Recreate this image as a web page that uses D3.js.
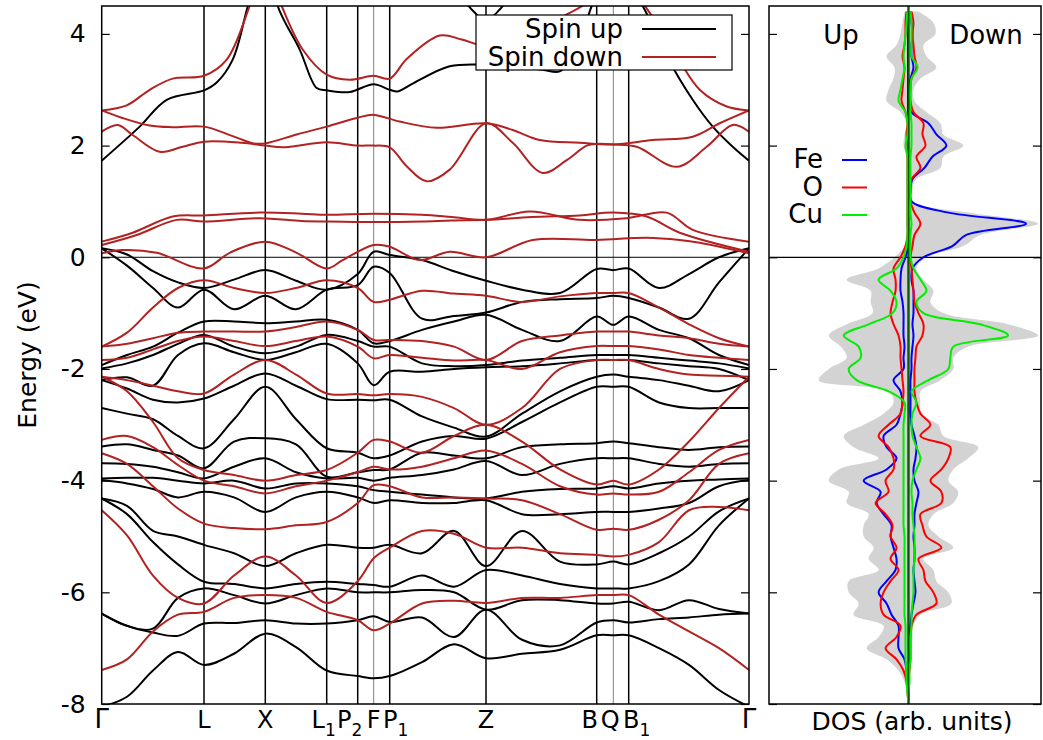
<!DOCTYPE html>
<html><head><meta charset="utf-8">
<script src="https://cdn.jsdelivr.net/npm/d3@7"></script>
<style>
body{margin:0;background:#fff}
svg{display:block}
text{font-family:"DejaVu Sans",sans-serif;fill:#000}
</style></head>
<body><svg id="c" width="1043" height="740"></svg>
<script>
// ---------------- DATA ----------------
const kLabels = [["Γ",""],["L",""],["X",""],["L","1"],["P","2"],["F",""],["P","1"],["Z",""],["B",""],["Q",""],["B","1"],["Γ",""]];
const kTicks = [0, 1.023, 1.636, 2.25, 2.56, 2.72, 2.88, 3.843, 4.95, 5.116, 5.27, 6.473];
const kThin = ["F","Q"];
const energyTicks = [-8,-6,-4,-2,0,2,4];
const kNodes = [0,0.253,0.513,0.763,1.023,1.323,1.636,1.943,2.25,2.56,2.72,2.88,3.203,3.523,3.843,4.203,4.583,4.95,5.116,5.27,5.573,5.873,6.173,6.473];

// spin-up valence energies (eV) at each k node, highest first
const upValenceByNode = [
 [0.16,0.16,-1.93,-1.99,-2.2,-2.2,-2.7,-3.39,-3.69,-3.96,-3.99,-4.32,-4.32,-6.38,-6.38,-8.05],
 [0.05,-0.15,-1.75,-1.9,-2.15,-2.35,-2.8,-3.35,-3.7,-3.95,-4.05,-4.45,-4.6,-6.6,-6.6,-7.87],
 [-0.25,-0.55,-1.6,-1.75,-2.3,-2.55,-2.9,-3.45,-3.75,-3.95,-4.15,-4.9,-5.1,-6.65,-6.72,-7.4],
 [-0.45,-0.9,-1.35,-1.55,-1.75,-2.6,-3.2,-3.55,-3.85,-4.0,-4.3,-5.0,-5.5,-6.1,-6.78,-7.07],
 [-0.55,-0.58,-1.15,-1.39,-1.54,-2.53,-3.42,-3.78,-3.96,-4.05,-4.2,-5.15,-5.81,-5.93,-6.56,-7.3],
 [-0.4,-0.93,-1.15,-1.6,-1.7,-2.3,-2.9,-3.3,-3.75,-4.0,-4.3,-5.3,-5.85,-6.05,-6.55,-7.1],
 [-0.23,-0.69,-1.18,-1.72,-1.84,-2.08,-2.32,-3.24,-3.6,-4.14,-4.56,-5.53,-5.93,-6.2,-6.5,-6.74],
 [-0.42,-0.93,-1.15,-1.6,-1.7,-2.3,-2.9,-3.35,-3.85,-4.05,-4.3,-5.3,-5.85,-6.05,-6.56,-6.98],
 [-0.58,-0.58,-1.12,-1.39,-1.55,-2.54,-3.42,-3.93,-3.96,-4.05,-4.2,-5.15,-5.81,-5.93,-6.56,-7.4],
 [-0.3,-0.5,-1.3,-1.5,-1.9,-2.55,-3.5,-3.85,-3.95,-4.1,-4.3,-5.2,-5.85,-6.0,-6.5,-7.5],
 [0.1,-0.17,-1.54,-1.6,-2.29,-2.56,-3.6,-3.81,-4.0,-4.17,-4.4,-5.2,-5.87,-6.0,-6.43,-7.54],
 [0.04,-0.28,-1.5,-1.6,-2.05,-2.55,-3.55,-3.8,-3.95,-4.2,-4.35,-5.15,-5.9,-6.0,-6.53,-7.5],
 [-0.05,-1.1,-1.3,-1.9,-2.05,-2.85,-3.3,-3.5,-3.9,-4.25,-4.4,-5.3,-5.7,-5.96,-6.45,-7.25],
 [-0.25,-1.05,-1.15,-1.95,-2.0,-3.05,-3.2,-3.55,-3.8,-4.3,-4.4,-4.9,-5.9,-6.0,-6.8,-6.93],
 [-0.42,-0.99,-1.03,-1.93,-1.97,-3.21,-3.25,-3.6,-3.65,-4.32,-4.35,-5.53,-5.6,-6.31,-6.31,-7.18],
 [-0.58,-0.8,-1.3,-1.85,-1.95,-2.8,-2.95,-3.4,-3.9,-4.2,-4.6,-4.9,-5.7,-6.14,-6.85,-7.1],
 [-0.64,-0.75,-1.5,-1.8,-1.9,-2.4,-2.6,-3.35,-3.7,-4.15,-4.6,-5.45,-5.85,-6.14,-6.95,-7.03],
 [-0.21,-0.73,-1.06,-1.75,-1.84,-2.14,-2.32,-3.33,-3.6,-4.14,-4.56,-5.5,-5.93,-6.2,-6.54,-6.77],
 [-0.23,-0.69,-1.21,-1.75,-1.84,-2.1,-2.32,-3.3,-3.6,-4.1,-4.56,-5.45,-5.93,-6.2,-6.5,-6.77],
 [-0.2,-0.73,-1.06,-1.75,-1.84,-2.14,-2.32,-3.33,-3.6,-4.14,-4.56,-5.5,-5.93,-6.17,-6.54,-6.77],
 [-0.55,-0.9,-1.3,-1.8,-1.9,-2.2,-2.6,-3.4,-3.7,-4.05,-4.5,-5.3,-5.8,-6.32,-6.48,-7.0],
 [-0.3,-1.1,-1.45,-1.85,-1.95,-2.3,-2.7,-3.45,-3.75,-4.0,-4.4,-5.0,-5.5,-6.14,-6.45,-7.3],
 [0.0,-0.45,-1.75,-1.9,-2.0,-2.4,-2.7,-3.4,-3.7,-3.98,-4.1,-4.55,-4.8,-6.3,-6.4,-7.75],
 [0.16,0.16,-1.93,-1.99,-2.2,-2.2,-2.7,-3.39,-3.69,-3.96,-3.99,-4.32,-4.32,-6.38,-6.38,-8.05]
];
// spin-down valence energies (eV) at each k node, highest first
const downValenceByNode = [
 [-1.6,-1.6,-1.84,-2.14,-2.14,-3.27,-3.51,-4.53,-7.39],
 [-1.35,-1.55,-1.8,-2.2,-2.4,-3.2,-3.7,-4.98,-7.2],
 [-0.9,-1.45,-1.65,-2.3,-2.95,-3.4,-4.1,-5.7,-6.7],
 [-0.55,-1.35,-1.5,-2.4,-3.6,-3.72,-4.5,-6.1,-6.4],
 [-0.41,-1.33,-1.42,-2.44,-3.81,-4.0,-4.77,-6.2,-6.35],
 [-0.55,-1.33,-1.5,-2.1,-3.9,-4.1,-4.85,-5.7,-6.1],
 [-0.64,-1.33,-1.59,-1.84,-4.0,-4.23,-4.87,-5.36,-6.05],
 [-0.55,-1.25,-1.5,-2.1,-3.9,-4.1,-4.8,-5.7,-6.1],
 [-0.41,-1.15,-1.42,-2.44,-3.81,-4.0,-4.74,-6.19,-6.35],
 [-0.55,-1.3,-1.6,-2.45,-3.5,-3.85,-4.4,-5.8,-6.5],
 [-0.8,-1.48,-1.81,-2.47,-3.27,-3.75,-4.08,-5.39,-6.68],
 [-0.76,-1.48,-1.75,-2.45,-3.3,-3.8,-4.1,-5.2,-6.56],
 [-0.6,-1.5,-1.8,-2.5,-3.5,-3.75,-4.3,-4.9,-6.2],
 [-0.65,-1.6,-1.85,-2.7,-3.2,-3.6,-4.3,-4.95,-6.15],
 [-0.69,-1.84,-1.84,-3.0,-3.0,-3.46,-4.32,-5.2,-6.19],
 [-0.8,-1.5,-2.0,-2.7,-3.3,-3.7,-4.35,-5.2,-6.1],
 [-0.7,-1.4,-1.7,-2.0,-3.8,-4.1,-4.6,-5.3,-6.1],
 [-0.64,-1.33,-1.59,-1.84,-4.07,-4.25,-4.88,-5.33,-6.05],
 [-0.64,-1.33,-1.59,-1.84,-4.0,-4.23,-4.86,-5.36,-6.05],
 [-0.64,-1.33,-1.59,-1.84,-4.07,-4.25,-4.88,-5.33,-6.05],
 [-0.9,-1.4,-1.65,-2.0,-3.8,-4.2,-4.7,-5.1,-6.4],
 [-1.2,-1.45,-1.75,-2.1,-3.3,-3.85,-4.35,-4.53,-6.7],
 [-1.45,-1.55,-1.8,-2.12,-2.7,-3.45,-3.7,-4.47,-7.0],
 [-1.6,-1.6,-1.84,-2.14,-2.14,-3.27,-3.51,-4.53,-7.39]
];
// conduction bands as [k, E] lists
const upConduction = [
 [[0,1.73],[0.38,2.34],[0.65,2.82],[1.023,2.99],[1.15,3.13],[1.31,3.54],[1.46,4.49],[1.636,5.6],[1.76,4.5],[1.98,3.72],[2.15,3.03],[2.25,2.99],[2.48,2.96],[2.72,3.1],[2.88,3.0],[2.96,2.97],[3.1,3.1],[3.48,3.42],[3.843,3.45],[4.1,3.42],[4.41,3.36],[4.58,3.33],[4.75,3.7],[4.9,4.5],[5.116,5.3],[5.41,4.5],[5.65,3.6],[5.91,2.82],[6.11,2.34],[6.31,1.98],[6.473,1.73]],
 [[3.6,4.65],[3.72,4.4],[3.843,4.22],[3.96,4.4],[4.08,4.65]]
];
const downConduction = [
 [[0,2.63],[0.25,2.72],[0.48,3.0],[0.71,3.2],[1.023,3.25],[1.25,3.54],[1.48,4.5],[1.636,5.3],[1.8,4.5],[2.01,3.72],[2.25,3.27],[2.48,3.18],[2.72,3.25],[2.88,3.2],[3.05,3.55],[3.38,3.97],[3.6,3.9],[3.843,3.78],[4.2,3.9],[4.6,4.3],[4.88,4.6],[5.116,5.2],[5.46,4.43],[5.75,3.6],[5.98,3.0],[6.25,2.7],[6.473,2.63]],
 [[0,2.63],[0.2,2.5],[0.48,2.36],[0.7,2.33],[1.023,2.34],[1.31,2.17],[1.52,2.04],[1.636,2.04],[1.95,2.2],[2.25,2.34],[2.56,2.5],[2.72,2.55],[2.98,2.43],[3.35,2.32],[3.843,2.4],[4.11,2.28],[4.38,2.1],[4.78,2.05],[5.116,2.02],[5.51,2.1],[5.91,2.16],[6.18,2.4],[6.473,2.63]],
 [[0,2.25],[0.16,2.37],[0.31,2.19],[0.58,1.89],[0.81,1.98],[1.023,2.07],[1.4,2.05],[1.636,2.0],[1.81,1.97],[2.25,2.06],[2.56,2.0],[2.72,2.0],[2.88,1.97],[3.05,1.63],[3.25,1.36],[3.48,1.57],[3.843,2.4],[4.11,2.05],[4.41,1.51],[4.65,1.74],[4.85,2.0],[4.95,2.03],[5.116,2.02],[5.35,1.98],[5.75,1.62],[6.05,1.98],[6.31,2.37],[6.473,2.25]],
 [[0,0.28],[0.31,0.44],[0.71,0.73],[1.023,0.75],[1.58,0.8],[2.0,0.78],[2.25,0.76],[2.72,0.78],[3.2,0.76],[3.5,0.72],[3.843,0.67],[4.28,0.82],[4.78,0.67],[5.25,0.7],[5.65,0.8],[5.91,0.49],[6.473,0.28]],
 [[0,0.22],[0.35,0.4],[0.75,0.67],[1.023,0.64],[1.58,0.7],[2.0,0.65],[2.25,0.64],[2.72,0.63],[3.2,0.64],[3.5,0.66],[3.843,0.67],[4.3,0.72],[4.78,0.75],[5.116,0.8],[5.45,0.73],[5.78,0.44],[6.473,0.1]],
 [[0,0.07],[0.21,0.13],[0.55,0.08],[1.023,-0.2],[1.28,0.08],[1.636,0.28],[1.95,0.08],[2.25,-0.2],[2.41,-0.05],[2.72,0.22],[2.88,0.19],[3.18,-0.05],[3.48,0.1],[3.843,0.0],[4.31,0.31],[4.95,0.31],[5.45,0.35],[5.78,0.31],[5.98,0.26],[6.473,0.07]]
];
// DOS (arb. units) on energy grid 4.4 .. -8.0 eV, step 0.2
const dosEnergy = d3.range(0,63).map(i => +(4.4 - 0.2*i).toFixed(1));
const totalUp = [4,6,8,12,22,14,15,20,22,8,2,4,5,2,1,1,1,1,1,1,1,4,14,
 30,62,38,38,36,62,80,68,62,80,90,20,15,25,45,65,55,30,70,80,60,62,40,45,45,35,40,30,60,60,50,55,25,30,42,22,10,4,1,0];
const totalDown = [10,25,27,15,18,28,12,5,6,18,32,35,55,35,32,8,4,5,60,130,72,55,18,
 8,15,25,22,35,100,130,60,45,45,32,12,12,12,30,35,70,60,45,40,50,45,25,20,30,45,15,25,28,40,43,12,5,4,3,2,1,0,0,0];
const feUp = [0.5,0.5,0.5,0.5,0.5,0.5,0.5,0.5,0.5,0.5,0.5,0.5,0.5,0.5,0.5,0.5,0.5,0.5,0.5,0.5,0.5,0.5,3,
 7,8,8,6,5,5,5,4,5,5,15,8,6,8,12,25,22,12,22,45,28,32,25,17,18,15,12,13,22,30,22,17,10,10,10,4,2,1,0,0];
const feDown = [2,3,4,3,3,5,2,1,1,3,20,28,38,24,16,4,2,3,40,118,58,44,15,
 4,3,5,5,5,4,5,4,3,3,2,2,2,2,3,6,8,7,5,6,10,8,6,6,5,6,6,5,6,7,5,3,2,1,1,1,0,0,0,0];
const oUp = [2,3,3,4,6,4,5,6,7,3,1,2,1,1,1,1,1,1,1,1,1,3,8,
 15,13,13,16,18,15,10,8,8,7,6,5,6,8,20,30,20,15,15,23,20,33,23,16,18,12,18,10,18,25,28,25,8,12,23,12,5,2,1,0];
const oDown = [3,5,4,5,6,8,3,2,2,5,15,14,17,8,12,3,2,2,6,12,6,4,2,
 3,4,5,6,10,15,14,8,7,6,6,6,8,12,22,12,42,40,33,22,33,33,12,14,18,33,10,15,17,25,28,8,3,2,2,2,1,0,0,0];
const cuUp = [1,2,3,4,5,4,6,8,10,3,1,1,3,1,1,1,1,1,1,1,1,2,5,
 12,30,18,12,16,40,65,50,48,60,52,20,4,4,5,5,5,5,5,5,5,5,5,5,4,4,4,4,4,4,4,4,3,3,3,3,2,2,1,0];
const cuDown = [2,3,3,3,3,9,3,2,2,2,3,3,3,2,2,2,2,2,2,3,2,2,2,
 5,12,18,8,15,72,100,45,42,40,20,3,8,4,3,4,8,12,8,4,3,4,4,5,6,6,6,5,5,5,4,3,3,2,2,2,1,1,0,0];
const dosSeries = [
 {name:"Fe", color:"#0000ff", up:feUp, down:feDown},
 {name:"O",  color:"#ff0000", up:oUp,  down:oDown},
 {name:"Cu", color:"#00ee00", up:cuUp, down:cuDown}
];
const spinLegend = [{name:"Spin up", color:"#000000"},{name:"Spin down", color:"#b22222"}];

// ---------------- DRAW ----------------
const svg = d3.select("#c");
const P = {l:101.7, r:749, t:6, b:704};
const D = {l:769, r:1041, t:6, b:704};
const x = d3.scaleLinear().domain([0, 6.473]).range([P.l, P.r]);
const y = d3.scaleLinear().domain([-8, 4.5]).range([P.b, P.t]);
const xd = d3.scaleLinear().domain([-140, 133]).range([D.l, D.r]);

const defs = svg.append("defs");
defs.append("clipPath").attr("id","cb").append("rect").attr("x",P.l).attr("y",P.t).attr("width",P.r-P.l).attr("height",P.b-P.t);
defs.append("clipPath").attr("id","cd").append("rect").attr("x",D.l).attr("y",D.t).attr("width",D.r-D.l).attr("height",D.b-D.t);

const gB = svg.append("g").attr("clip-path","url(#cb)");
gB.selectAll("line.v").data(kTicks.slice(1,-1).map((k,i)=>({k, lab:kLabels[i+1][0]+kLabels[i+1][1]})))
 .join("line").attr("class","v")
 .attr("x1",d=>x(d.k)).attr("x2",d=>x(d.k)).attr("y1",P.t).attr("y2",P.b)
 .attr("stroke",d=>kThin.includes(d.lab)?"#808080":"#000")
 .attr("stroke-width",d=>kThin.includes(d.lab)?1:1.5);
gB.append("line").attr("x1",P.l).attr("x2",P.r).attr("y1",y(0)).attr("y2",y(0)).attr("stroke","#000").attr("stroke-width",1);

const line = d3.line().x(d=>x(d[0])).y(d=>y(d[1])).curve(d3.curveCatmullRom.alpha(0.5));
const transpose = rows => rows[0].map((_,j)=>rows.map(r=>r[j]));
const upBands = transpose(upValenceByNode).map(b=>b.map((e,i)=>[kNodes[i],e])).concat(upConduction);
const downBands = transpose(downValenceByNode).map(b=>b.map((e,i)=>[kNodes[i],e])).concat(downConduction);

gB.selectAll("path.up").data(upBands).join("path").attr("class","up")
 .attr("d",line).attr("fill","none").attr("stroke","#000").attr("stroke-width",2);
gB.selectAll("path.dn").data(downBands).join("path").attr("class","dn")
 .attr("d",line).attr("fill","none").attr("stroke","#b22222").attr("stroke-width",2);

svg.append("rect").attr("x",P.l).attr("y",P.t).attr("width",P.r-P.l).attr("height",P.b-P.t)
 .attr("fill","none").attr("stroke","#000").attr("stroke-width",1.5);

const ya = svg.append("g").attr("transform",`translate(${P.l},0)`)
 .call(d3.axisLeft(y).tickValues(energyTicks).tickSize(-8).tickPadding(16).tickFormat(d=>d<0?"-"+Math.abs(d):d));
ya.select(".domain").remove();
ya.selectAll("text").attr("font-size",25).attr("font-family","DejaVu Sans").attr("fill","#000");
ya.selectAll("line").attr("stroke","#000").attr("stroke-width",1.2);
const yr = svg.append("g").attr("transform",`translate(${P.r},0)`)
 .call(d3.axisRight(y).tickValues(energyTicks).tickSize(-8).tickFormat(""));
yr.select(".domain").remove(); yr.selectAll("line").attr("stroke","#000").attr("stroke-width",1.2);

svg.append("text").attr("transform",`translate(36,${(P.t+P.b)/2}) rotate(-90)`)
 .attr("text-anchor","middle").attr("font-size",25).text("Energy (eV)");

// k labels (small shifts keep the crowded ones apart, as in the original)
const labelShift = {"L1":-3,"P2":-8,"F":0,"P1":6,"B":-7,"Q":-3,"B1":8};
const kl = svg.selectAll("text.k").data(kTicks.map((k,i)=>({k, lab:kLabels[i]}))).join("text").attr("class","k")
 .attr("x",d=>x(d.k)+(labelShift[d.lab[0]+d.lab[1]]||0)).attr("y",728).attr("font-size",24).attr("text-anchor","middle");
kl.each(function(d){
  const t = d3.select(this);
  if (d.lab[0]==="Γ") { t.attr("font-family","DejaVu Serif").attr("font-size",26).text("Γ"); return; }
  t.append("tspan").text(d.lab[0]);
  if (d.lab[1]) t.append("tspan").attr("dy",8).attr("font-size",17).text(d.lab[1]);
});

const lg = svg.append("g");
lg.append("rect").attr("x",476).attr("y",15).attr("width",256).attr("height",55).attr("fill","#fff").attr("stroke","#000").attr("stroke-width",1.2);
lg.selectAll("text").data(spinLegend).join("text").attr("x",623).attr("y",(d,i)=>38+i*28)
 .attr("text-anchor","end").attr("font-size",26).text(d=>d.name);
lg.selectAll("line").data(spinLegend).join("line").attr("x1",642).attr("x2",716)
 .attr("y1",(d,i)=>29+i*28).attr("y2",(d,i)=>29+i*28).attr("stroke",d=>d.color).attr("stroke-width",2);

// ---------------- DOS panel ----------------
const gD = svg.append("g").attr("clip-path","url(#cd)");
const cr = d3.curveCatmullRom.alpha(0.5);
const areaUp = d3.area().y((d,i)=>y(dosEnergy[i])).x0(xd(0)).x1(d=>xd(-d)).curve(cr);
const areaDn = d3.area().y((d,i)=>y(dosEnergy[i])).x0(xd(0)).x1(d=>xd(d)).curve(cr);
gD.append("path").datum(totalUp).attr("d",areaUp).attr("fill","#d3d3d3");
gD.append("path").datum(totalDown).attr("d",areaDn).attr("fill","#d3d3d3");
gD.append("line").attr("x1",D.l).attr("x2",D.r).attr("y1",y(0)).attr("y2",y(0)).attr("stroke","#000").attr("stroke-width",1.2);
const lUp = d3.line().y((d,i)=>y(dosEnergy[i])).x(d=>xd(-d)).curve(cr);
const lDn = d3.line().y((d,i)=>y(dosEnergy[i])).x(d=>xd(d)).curve(cr);
gD.append("line").attr("x1",xd(0)).attr("x2",xd(0)).attr("y1",D.t).attr("y2",D.b).attr("stroke","#000").attr("stroke-width",2);
dosSeries.forEach(s=>{
  gD.append("path").datum(s.up).attr("d",lUp).attr("fill","none").attr("stroke",s.color).attr("stroke-width",2);
  gD.append("path").datum(s.down).attr("d",lDn).attr("fill","none").attr("stroke",s.color).attr("stroke-width",2);
});
gD.append("line").attr("x1",xd(0)).attr("x2",xd(0)).attr("y1",D.t).attr("y2",D.b).attr("stroke","#0a5a0a").attr("stroke-width",1.2);

svg.append("rect").attr("x",D.l).attr("y",D.t).attr("width",D.r-D.l).attr("height",D.b-D.t)
 .attr("fill","none").attr("stroke","#000").attr("stroke-width",1.5);
const dl = svg.append("g").attr("transform",`translate(${D.l},0)`)
 .call(d3.axisLeft(y).tickValues(energyTicks).tickSize(-8).tickFormat(""));
dl.select(".domain").remove(); dl.selectAll("line").attr("stroke","#000").attr("stroke-width",1.2);
const dr = svg.append("g").attr("transform",`translate(${D.r},0)`)
 .call(d3.axisRight(y).tickValues(energyTicks).tickSize(-8).tickFormat(""));
dr.select(".domain").remove(); dr.selectAll("line").attr("stroke","#000").attr("stroke-width",1.2);

svg.append("text").attr("x",841).attr("y",44).attr("text-anchor","middle").attr("font-size",26).text("Up");
svg.append("text").attr("x",986).attr("y",44).attr("text-anchor","middle").attr("font-size",26).text("Down");
svg.append("text").attr("x",912).attr("y",730).attr("text-anchor","middle").attr("font-size",25).text("DOS (arb. units)");

const dlg = svg.append("g");
dlg.selectAll("text").data(dosSeries).join("text").attr("x",823).attr("y",(d,i)=>168+i*27.5)
 .attr("text-anchor","end").attr("font-size",26).text(d=>d.name);
dlg.selectAll("line").data(dosSeries).join("line").attr("x1",842).attr("x2",867)
 .attr("y1",(d,i)=>160+i*27.5).attr("y2",(d,i)=>160+i*27.5).attr("stroke",d=>d.color).attr("stroke-width",2);
</script></body></html>
